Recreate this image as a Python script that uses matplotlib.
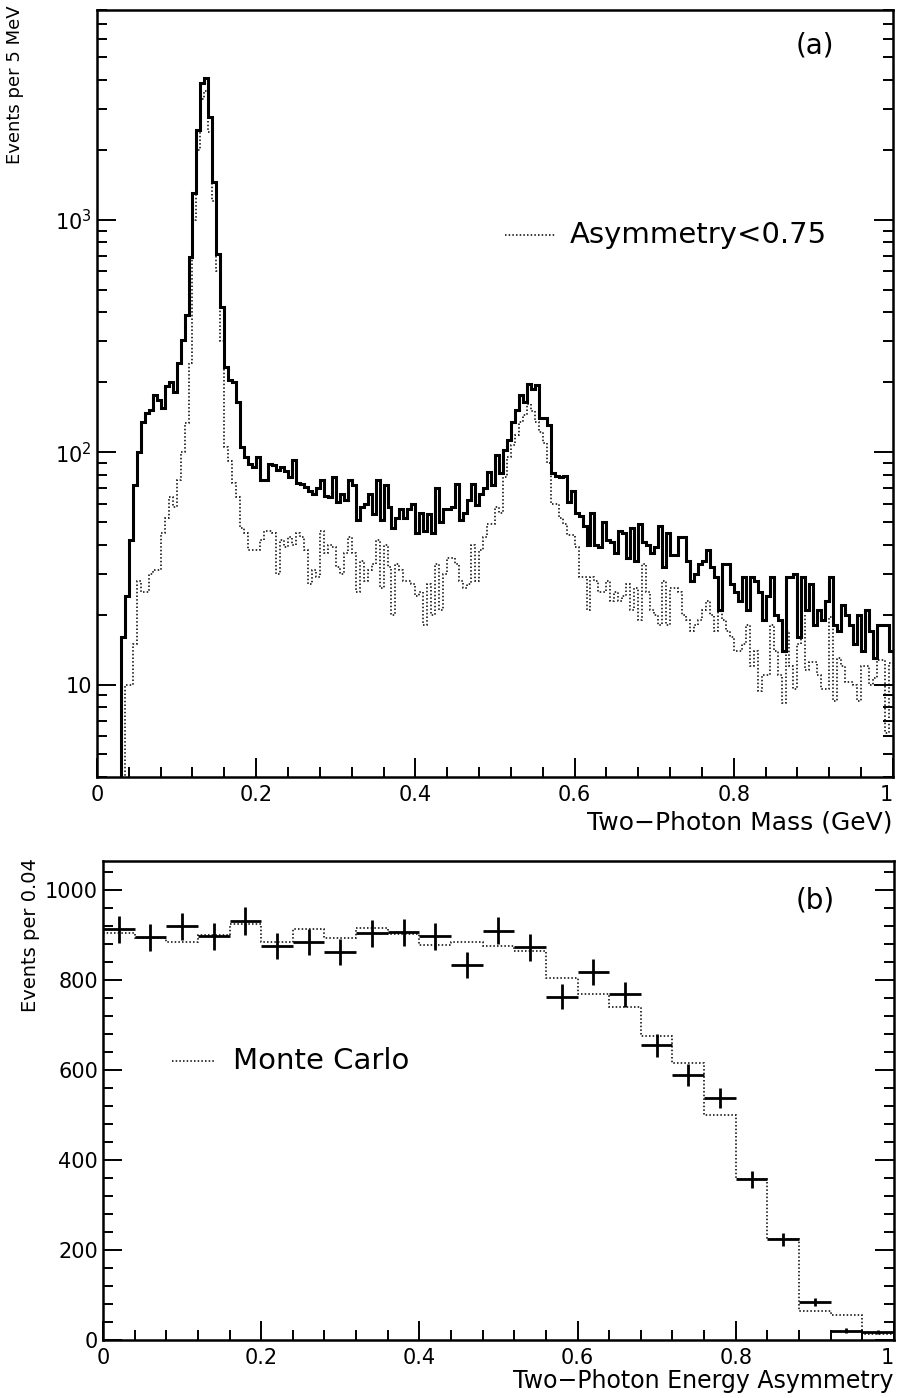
import numpy as np
import matplotlib
matplotlib.use("Agg")
import matplotlib.pyplot as plt
from matplotlib.ticker import FixedLocator, MultipleLocator, FuncFormatter

plt.rcParams['font.family'] = ['DejaVu Sans']
plt.rcParams['mathtext.fontset'] = 'dejavusans'

# --- (a) two-photon mass, 5 MeV bins from 0 to 1 GeV ---
mass_edges = np.linspace(0.0, 1.0, 201)
mass_all = [
    0, 0, 0, 0, 0, 0, 16, 24, 42, 72,
    100, 135, 148, 152, 176, 168, 155, 192, 200, 182,
    242, 305, 390, 690, 1310, 2430, 3900, 4100, 2770, 1450,
    710, 420, 233, 205, 200, 164, 105, 95, 89, 86,
    95, 76, 76, 89, 88, 84, 86, 83, 78, 93,
    74, 73, 71, 68, 66, 70, 76, 65, 64, 78,
    61, 66, 62, 76, 72, 51, 58, 60, 66, 54,
    76, 51, 72, 58, 47, 52, 57, 52, 57, 60,
    45, 55, 46, 54, 45, 70, 50, 57, 57, 58,
    73, 51, 55, 62, 73, 59, 66, 70, 82, 72,
    97, 81, 102, 113, 135, 152, 176, 164, 196, 188,
    194, 141, 140, 131, 81, 79, 78, 79, 61, 68,
    55, 53, 48, 40, 55, 40, 39, 50, 42, 41,
    37, 46, 45, 35, 47, 34, 49, 41, 40, 37,
    39, 48, 32, 45, 36, 36, 43, 43, 34, 28,
    30, 33, 34, 38, 32, 29, 21, 33, 33, 27,
    25, 23, 29, 21, 29, 28, 25, 19, 24, 29,
    20, 19, 14, 29, 29, 30, 16, 29, 21, 27,
    18, 21, 19, 23, 29, 18, 17, 22, 20, 18,
    15, 20, 14, 21, 17, 13, 18, 18, 18, 14,
]
mass_cut = [
    0, 0, 0, 0, 0, 0, 0, 10, 10, 15,
    28, 25, 25, 30, 31, 31, 45, 52, 64, 58,
    76, 100, 133, 242, 1000, 2000, 3300, 3600, 2400, 1200,
    600, 300, 105, 92, 74, 64, 47, 45, 38, 38,
    38, 42, 46, 46, 45, 30, 42, 39, 43, 40,
    45, 43, 38, 27, 31, 29, 46, 37, 40, 39,
    32, 30, 37, 43, 37, 25, 34, 28, 31, 33,
    42, 26, 40, 32, 20, 33, 31, 28, 28, 27,
    24, 25, 18, 27, 20, 33, 21, 30, 35, 35,
    33, 28, 26, 27, 40, 28, 38, 43, 49, 49,
    58, 55, 78, 95, 107, 119, 135, 144, 162, 150,
    135, 122, 110, 90, 60, 60, 52, 49, 44, 44,
    39, 29, 29, 21, 29, 28, 25, 25, 28, 23,
    25, 23, 24, 27, 21, 26, 19, 33, 25, 21,
    20, 18, 28, 18, 26, 26, 25, 20, 19, 17,
    18, 19, 21, 23, 20, 17, 21, 19, 17, 16,
    14, 14, 15, 18, 12, 14, 9.4, 11, 11, 18,
    14, 11, 8.3, 17, 12, 9.6, 15, 20, 11.5, 12.5,
    12.5, 11, 9.6, 9.6, 19.5, 8.5, 13, 12, 10.3, 10.3,
    10, 8.5, 12, 12, 10, 10.7, 12.7, 12.7, 6.2, 12.4,
]

# --- (b) two-photon energy asymmetry, bins of 0.04 ---
asym_edges = np.linspace(0.0, 1.0, 26)
asym_data = [913, 895, 920, 898, 932, 876, 885, 863, 904, 907,
             898, 833, 910, 873, 763, 818, 769, 655, 589, 538,
             357, 224, 85, 21, 18]
asym_mc = [905, 893, 885, 900, 925, 885, 913, 893, 915, 902,
           878, 885, 876, 865, 804, 770, 741, 676, 617, 500,
           357, 224, 64, 56, 13]

dots = (0, (1, 1.4))

fig = plt.figure(figsize=(8.97, 13.98), dpi=100)
ax1 = fig.add_axes([0.1081, 0.4442, 0.8874, 0.5486])
ax2 = fig.add_axes([0.1148, 0.0415, 0.8818, 0.3426])

# top panel
m_all = np.array(mass_all, dtype=float)
m_cut = np.array(mass_cut, dtype=float)
m_all[m_all <= 0] = 1e-3
m_cut[m_cut <= 0] = 1e-3
ax1.stairs(m_all, mass_edges, color='black', lw=2.2, baseline=None)
ax1.stairs(m_cut, mass_edges, color='black', lw=1.1, ls=dots, baseline=None)
ax1.set_yscale('log')
ax1.set_xlim(0, 1)
ax1.set_ylim(4, 8000)
ax1.yaxis.set_major_locator(FixedLocator([10, 100, 1000]))
ax1.yaxis.set_minor_locator(FixedLocator(
    [k * d for d in (1, 10, 100, 1000) for k in range(2, 10) if 4 <= k * d <= 8000]))
ax1.yaxis.set_major_formatter(FuncFormatter(
    lambda v, p: {10: '10', 100: r'$\mathregular{10^2}$', 1000: r'$\mathregular{10^3}$'}.get(int(round(v)), '')))
ax1.yaxis.set_minor_formatter(FuncFormatter(lambda v, p: ''))

ax1.plot([0.513, 0.576], [0.707, 0.707], transform=ax1.transAxes,
         color='black', lw=1.1, ls=dots)
ax1.text(0.594, 0.707, 'Asymmetry<0.75', transform=ax1.transAxes,
         fontsize=21, va='center', ha='left')
ax1.text(0.902, 0.954, '(a)', transform=ax1.transAxes,
         fontsize=20, va='center', ha='center')

# bottom panel
centers = 0.5 * (asym_edges[:-1] + asym_edges[1:])
ax2.stairs(asym_mc, asym_edges, color='black', lw=1.1, ls=dots, baseline=None)
ax2.errorbar(centers, asym_data, xerr=0.02, yerr=np.sqrt(asym_data),
             fmt='none', ecolor='black', elinewidth=2.0, capsize=0)
ax2.set_xlim(0, 1)
ax2.set_ylim(0, 1065)
ax2.yaxis.set_major_locator(MultipleLocator(200))
ax2.yaxis.set_minor_locator(MultipleLocator(40))

ax2.plot([0.087, 0.142], [0.5825, 0.5825], transform=ax2.transAxes,
         color='black', lw=1.1, ls=dots)
ax2.text(0.164, 0.5825, 'Monte Carlo', transform=ax2.transAxes,
         fontsize=21, va='center', ha='left')
ax2.text(0.90, 0.9186, '(b)', transform=ax2.transAxes,
         fontsize=20, va='center', ha='center')

fmt_x = FuncFormatter(lambda v, p: '0' if abs(v) < 1e-9 else ('1' if abs(v - 1) < 1e-9 else f'{v:.1f}'))
for ax in (ax1, ax2):
    ax.xaxis.set_major_locator(MultipleLocator(0.2))
    ax.xaxis.set_minor_locator(MultipleLocator(0.04))
    ax.xaxis.set_major_formatter(fmt_x)
    ax.tick_params(which='both', direction='in', right=True, top=False,
                   labelsize=15, width=1.4)
    ax.tick_params(which='major', length=14)
    ax.tick_params(which='minor', length=7)
    ax.tick_params(axis='x', pad=6)
    for s in ax.spines.values():
        s.set_linewidth(1.8)

fig.text(0.995, 0.412, 'Two\u2212Photon Mass (GeV)', ha='right', va='center', fontsize=18)
fig.text(0.996, 0.0122, 'Two\u2212Photon Energy Asymmetry', ha='right', va='center', fontsize=17)
fig.text(0.017, 0.996, 'Events per 5 MeV', rotation=90, ha='center', va='top', fontsize=13)
fig.text(0.034, 0.386, 'Events per 0.04', rotation=90, ha='center', va='top', fontsize=14)

# keep the "1" at the right end of each x axis inside the figure
fig.canvas.draw()
for ax in (ax1, ax2):
    for lab in ax.get_xticklabels():
        if lab.get_text() == '1':
            lab.set_ha('right')

fig.savefig('out.png', dpi=100)
